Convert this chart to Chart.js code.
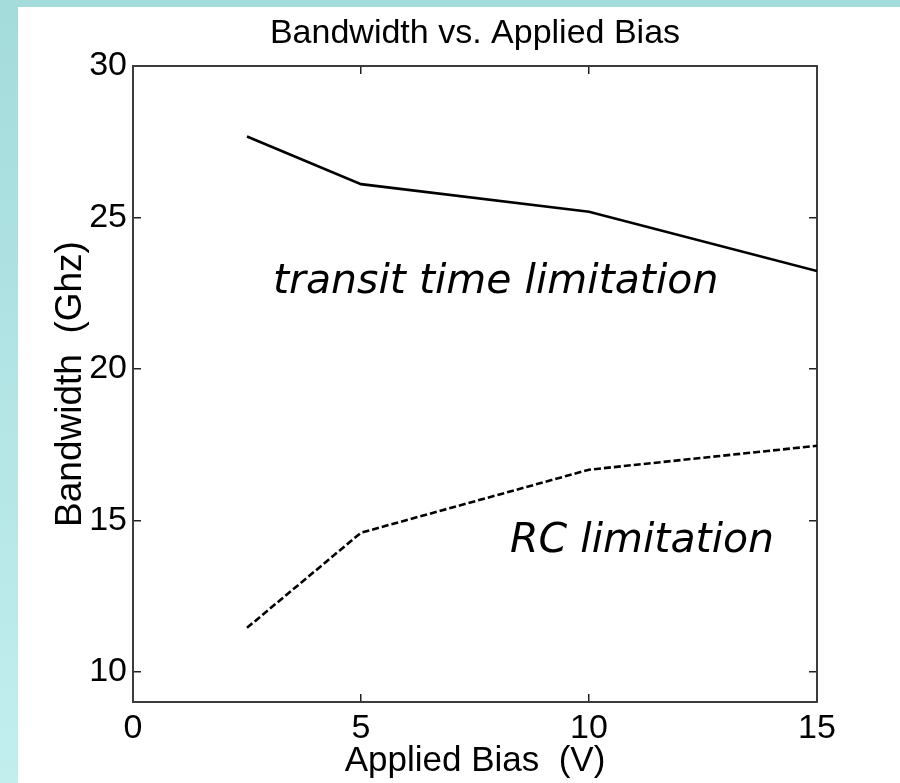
<!DOCTYPE html>
<html>
<head>
<meta charset="utf-8">
<script src="https://cdn.jsdelivr.net/npm/chart.js@4/dist/chart.umd.min.js"></script>
<style>
  html, body { margin: 0; padding: 0; }
  body {
    width: 900px; height: 783px; overflow: hidden; position: relative;
    background: linear-gradient(180deg, #a4dbdb 0%, #b4e6e6 55%, #c2eeee 100%);
  }
  #panel {
    position: absolute; left: 18px; top: 7px; width: 882px; height: 776px;
    background: #ffffff;
  }
  canvas { display: block; }
</style>
</head>
<body>
<div id="panel"><canvas id="chart" width="882" height="776"></canvas></div>
<script>
// Applied bias (V) at which bandwidth was evaluated
const biasVolts = [2.5, 5, 10, 15];
// Bandwidth limited by carrier transit time (GHz)
const transitLimitGHz = [27.67, 26.1, 25.19, 23.23];
// Bandwidth limited by RC time constant (GHz)
const rcLimitGHz = [11.45, 14.59, 16.67, 17.46];

// Axis ranges and tick steps
const xRange = [0, 15];
const yRange = [9, 30];
const tickStep = 5;

// In-plot annotations: [text, bias, bandwidth]
const notes = [
  ['transit time limitation', 3.07, 22.5],
  ['RC limitation', 8.27, 13.96]
];

const toPoints = (xs, ys) => xs.map((x, i) => ({ x: x, y: ys[i] }));

const FONT = '"Liberation Sans", Arial, Helvetica, sans-serif';
const AXIS_COLOR = '#3c3c3c';

// Tick marks point into the plot on every side (negative tick length)
const boxGrid = {
  display: true,
  drawOnChartArea: false,
  drawTicks: true,
  tickLength: -8,
  color: '#222',
  lineWidth: 1.5
};
const boxBorder = { display: true, color: AXIS_COLOR, width: 2 };

const notesPlugin = {
  id: 'notes',
  afterDatasetsDraw(chart) {
    const { ctx } = chart;
    const xs = chart.scales.x, ys = chart.scales.y;
    ctx.save();
    ctx.fillStyle = '#000';
    ctx.font = 'italic 41px "DejaVu Sans", Verdana, sans-serif';
    ctx.textAlign = 'left';
    ctx.textBaseline = 'alphabetic';
    notes.forEach(([text, bx, by]) => {
      ctx.fillText(text, xs.getPixelForValue(bx), ys.getPixelForValue(by));
    });
    ctx.restore();
  }
};

new Chart(document.getElementById('chart'), {
  type: 'line',
  data: {
    datasets: [
      {
        label: 'transit time limitation',
        data: toPoints(biasVolts, transitLimitGHz),
        borderColor: '#000',
        borderWidth: 2.6,
        pointRadius: 0,
        tension: 0,
        fill: false
      },
      {
        label: 'RC limitation',
        data: toPoints(biasVolts, rcLimitGHz),
        borderColor: '#000',
        borderWidth: 2.6,
        borderDash: [7, 3],
        pointRadius: 0,
        tension: 0,
        fill: false
      }
    ]
  },
  options: {
    responsive: false,
    animation: false,
    events: [],
    layout: { padding: { left: 0, right: 83, top: 0, bottom: 0 } },
    plugins: {
      legend: { display: false },
      tooltip: { enabled: false },
      title: {
        display: true,
        text: 'Bandwidth vs. Applied Bias',
        color: '#000',
        fullSize: false,
        font: { family: FONT, size: 34, weight: 'normal', lineHeight: 1.2 },
        padding: { top: 6.4, bottom: 11.8 }
      }
    },
    scales: {
      x: {
        type: 'linear',
        position: 'bottom',
        min: xRange[0], max: xRange[1],
        ticks: {
          stepSize: tickStep, includeBounds: false, padding: 14.6,
          color: '#000', maxRotation: 0,
          font: { family: FONT, size: 34 }
        },
        grid: boxGrid,
        border: boxBorder,
        title: {
          display: true, text: 'Applied Bias  (V)', color: '#000',
          font: { family: FONT, size: 35, lineHeight: 1.2 },
          padding: { top: 0, bottom: 1 }
        },
        afterFit(scale) { scale.height = 81; }
      },
      x2: {
        type: 'linear',
        position: 'top',
        min: xRange[0], max: xRange[1],
        ticks: { display: false, stepSize: tickStep, includeBounds: false },
        grid: boxGrid,
        border: boxBorder,
        afterFit(scale) { scale.height = 0; }
      },
      y: {
        type: 'linear',
        position: 'left',
        min: yRange[0], max: yRange[1],
        ticks: {
          stepSize: tickStep, includeBounds: false, padding: 14,
          color: '#000',
          font: { family: FONT, size: 34 }
        },
        grid: boxGrid,
        border: boxBorder,
        title: {
          display: true, text: 'Bandwidth  (Ghz)', color: '#000',
          font: { family: FONT, size: 37, lineHeight: 1.2 },
          padding: { top: 31, bottom: 0 }
        },
        afterFit(scale) { scale.width = 115; }
      },
      y2: {
        type: 'linear',
        position: 'right',
        min: yRange[0], max: yRange[1],
        ticks: { display: false, stepSize: tickStep, includeBounds: false },
        grid: boxGrid,
        border: boxBorder,
        afterFit(scale) { scale.width = 0; }
      }
    }
  },
  plugins: [notesPlugin]
});
</script>
</body>
</html>
